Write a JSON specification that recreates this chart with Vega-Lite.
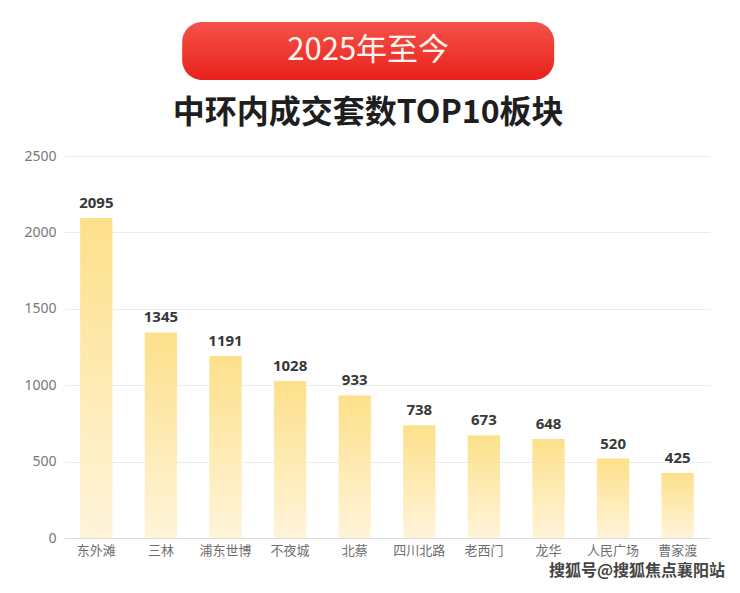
{
  "$schema": "https://vega.github.io/schema/vega-lite/v6.json",
  "background": "#ffffff",
  "padding": {"top": 22, "left": 23, "right": 10, "bottom": 5},
  "spacing": 20,
  "center": true,
  "vconcat": [
    {
      "width": 372,
      "height": 58,
      "data": {"values": [{"label": "2025年至今", "mid": 1}]},
      "view": {
        "cornerRadius": 20,
        "stroke": null,
        "fill": {
          "gradient": "linear",
          "x1": 0, "y1": 0, "x2": 0, "y2": 1,
          "stops": [
            {"offset": 0, "color": "#f5524a"},
            {"offset": 1, "color": "#e8221b"}
          ]
        }
      },
      "title": {
        "text": "中环内成交套数TOP10板块",
        "orient": "bottom",
        "anchor": "middle",
        "font": "Noto Sans CJK SC",
        "fontSize": 32,
        "fontWeight": "bold",
        "color": "#1e1e1e",
        "offset": 18
      },
      "mark": {
        "type": "text",
        "font": "Noto Sans CJK SC",
        "fontSize": 31,
        "color": "#fff4ee",
        "baseline": "middle",
        "align": "center"
      },
      "encoding": {
        "text": {"field": "label"},
        "y": {
          "field": "mid",
          "type": "quantitative",
          "title": null,
          "scale": {"domain": [0, 2]},
          "axis": {
            "orient": "right",
            "values": [1],
            "labelExpr": "'0000000'",
            "labelColor": "transparent",
            "labelFontSize": 13,
            "ticks": false,
            "domain": false,
            "grid": false
          }
        }
      }
    },
    {
      "width": 646,
      "height": 382,
      "data": {
        "values": [
          {"area": "东外滩", "count": 2095},
          {"area": "三林", "count": 1345},
          {"area": "浦东世博", "count": 1191},
          {"area": "不夜城", "count": 1028},
          {"area": "北蔡", "count": 933},
          {"area": "四川北路", "count": 738},
          {"area": "老西门", "count": 673},
          {"area": "龙华", "count": 648},
          {"area": "人民广场", "count": 520},
          {"area": "曹家渡", "count": 425}
        ]
      },
      "view": {"stroke": null},
      "title": {
        "text": "搜狐号@搜狐焦点襄阳站",
        "orient": "bottom",
        "anchor": "end",
        "font": "Noto Sans CJK SC",
        "fontSize": 16,
        "fontWeight": "bold",
        "color": "#444444",
        "offset": 6,
        "dx": 15
      },
      "encoding": {
        "x": {
          "field": "area",
          "type": "nominal",
          "sort": null,
          "title": null,
          "scale": {"paddingInner": 0.5, "paddingOuter": 0.25},
          "axis": {
            "labelAngle": 0,
            "labelFont": "Noto Sans CJK SC",
            "labelFontSize": 13,
            "labelColor": "#6e6e6e",
            "labelPadding": 6,
            "ticks": false,
            "domainColor": "#dddddd"
          }
        },
        "y": {
          "field": "count",
          "type": "quantitative",
          "title": null,
          "scale": {"domain": [0, 2500]},
          "axis": {
            "values": [0, 500, 1000, 1500, 2000, 2500],
            "format": "d",
            "labelFont": "Noto Sans",
            "labelFontSize": 14,
            "labelColor": "#777777",
            "labelPadding": 8,
            "ticks": false,
            "domain": false,
            "gridColor": "#ececec"
          }
        }
      },
      "layer": [
        {
          "mark": {
            "type": "bar",
            "color": {
              "gradient": "linear",
              "x1": 0, "y1": 0, "x2": 0, "y2": 1,
              "stops": [
                {"offset": 0, "color": "#fde08a"},
                {"offset": 1, "color": "#fff4da"}
              ]
            }
          }
        },
        {
          "mark": {
            "type": "text",
            "dy": -15,
            "font": "Noto Sans",
            "fontSize": 15,
            "fontWeight": "bold",
            "color": "#383838"
          },
          "encoding": {"text": {"field": "count", "type": "quantitative"}}
        }
      ]
    }
  ]
}
